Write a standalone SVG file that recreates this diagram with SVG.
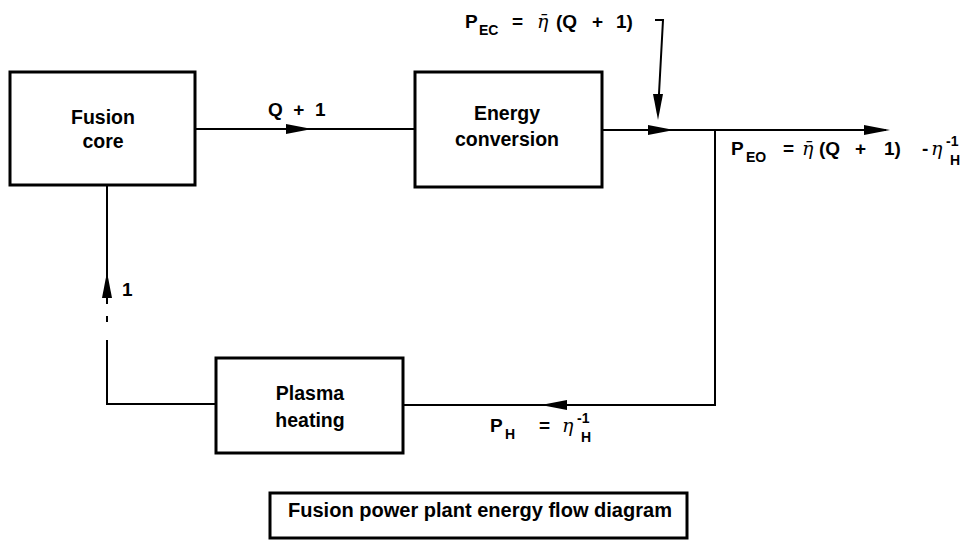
<svg xmlns="http://www.w3.org/2000/svg" width="979" height="545" viewBox="0 0 979 545">
<style>
.box{fill:none;stroke:#000;stroke-width:3}
.ln{fill:none;stroke:#000;stroke-width:2}
.t{font-family:"Liberation Sans",Arial,sans-serif;font-weight:bold;font-size:19.5px;fill:#000}
.m{font-family:"Liberation Sans",Arial,sans-serif;font-weight:bold;font-size:19px;fill:#000;white-space:pre}
.sub{font-size:14px}
.eta{font-family:"DejaVu Serif","Liberation Serif",serif;font-style:italic;font-weight:normal;font-size:19px}
</style>
<defs>
<path id="ah" d="M0,0 L-26,-5 L-26,5 Z" fill="#000"/>
</defs>
<rect width="979" height="545" fill="#fff"/>
<g id="connectors">
<line class="ln" x1="195" y1="129" x2="415" y2="129"/>
<use href="#ah" transform="translate(312,129)"/>
<line class="ln" x1="602" y1="130" x2="886" y2="130"/>
<use href="#ah" transform="translate(674,130)"/>
<use href="#ah" transform="translate(890,130)"/>
<polyline class="ln" points="655,20 663,20 658,112"/>
<use href="#ah" transform="translate(658,120) rotate(90)"/>
<polyline class="ln" points="715,130 715,405 403,405"/>
<use href="#ah" transform="translate(541,405) rotate(180)"/>
<polyline class="ln" points="216,404 107,404 107,340"/>
<line class="ln" x1="107" y1="316" x2="107" y2="322"/>
<line class="ln" x1="107" y1="304" x2="107" y2="186"/>
<use href="#ah" transform="translate(107,272) rotate(-90)"/>
</g>
<g id="fusion-core">
<rect class="box" x="10" y="72" width="185" height="113"/>
<text class="t" x="103" y="124" text-anchor="middle">Fusion</text>
<text class="t" x="103" y="148" text-anchor="middle">core</text>
</g>
<g id="energy-conversion">
<rect class="box" x="415" y="72" width="187" height="115"/>
<text class="t" x="507" y="120" text-anchor="middle">Energy</text>
<text class="t" x="507" y="146" text-anchor="middle">conversion</text>
</g>
<g id="plasma-heating">
<rect class="box" x="216" y="358" width="187" height="95"/>
<text class="t" x="310" y="400" text-anchor="middle">Plasma</text>
<text class="t" x="310" y="427" text-anchor="middle">heating</text>
</g>
<g id="labels">
<text class="m" xml:space="preserve" x="268" y="116">Q  +  1</text>
<text class="m" xml:space="preserve" y="28"><tspan x="465">P</tspan><tspan class="sub" x="479" y="35">EC</tspan><tspan x="512" y="28">=</tspan><tspan class="eta" x="537">η̄</tspan><tspan x="556">(Q</tspan><tspan x="592">+</tspan><tspan x="616">1)</tspan></text>
<text class="m" xml:space="preserve" y="155"><tspan x="731">P</tspan><tspan class="sub" x="746" y="162">EO</tspan><tspan x="783" y="155">=</tspan><tspan class="eta" x="802">η̄</tspan><tspan x="819">(Q</tspan><tspan x="855">+</tspan><tspan x="884">1)</tspan><tspan x="922">-</tspan><tspan class="eta" x="931">η</tspan><tspan class="sub" x="950" y="165">H</tspan><tspan class="sub" x="946" y="146">-1</tspan></text>
<text class="m" xml:space="preserve" y="432"><tspan x="490">P</tspan><tspan class="sub" x="505" y="439">H</tspan><tspan x="539" y="432">=</tspan><tspan class="eta" x="562">η</tspan><tspan class="sub" x="581" y="442">H</tspan><tspan class="sub" x="577" y="423">-1</tspan></text>
<text class="m" x="122" y="296">1</text>
</g>
<g id="caption">
<rect class="box" x="270" y="493" width="417" height="45" stroke-width="2"/>
<text class="t" x="288" y="517" textLength="384" lengthAdjust="spacingAndGlyphs">Fusion power plant energy flow diagram</text>
</g>
</svg>
